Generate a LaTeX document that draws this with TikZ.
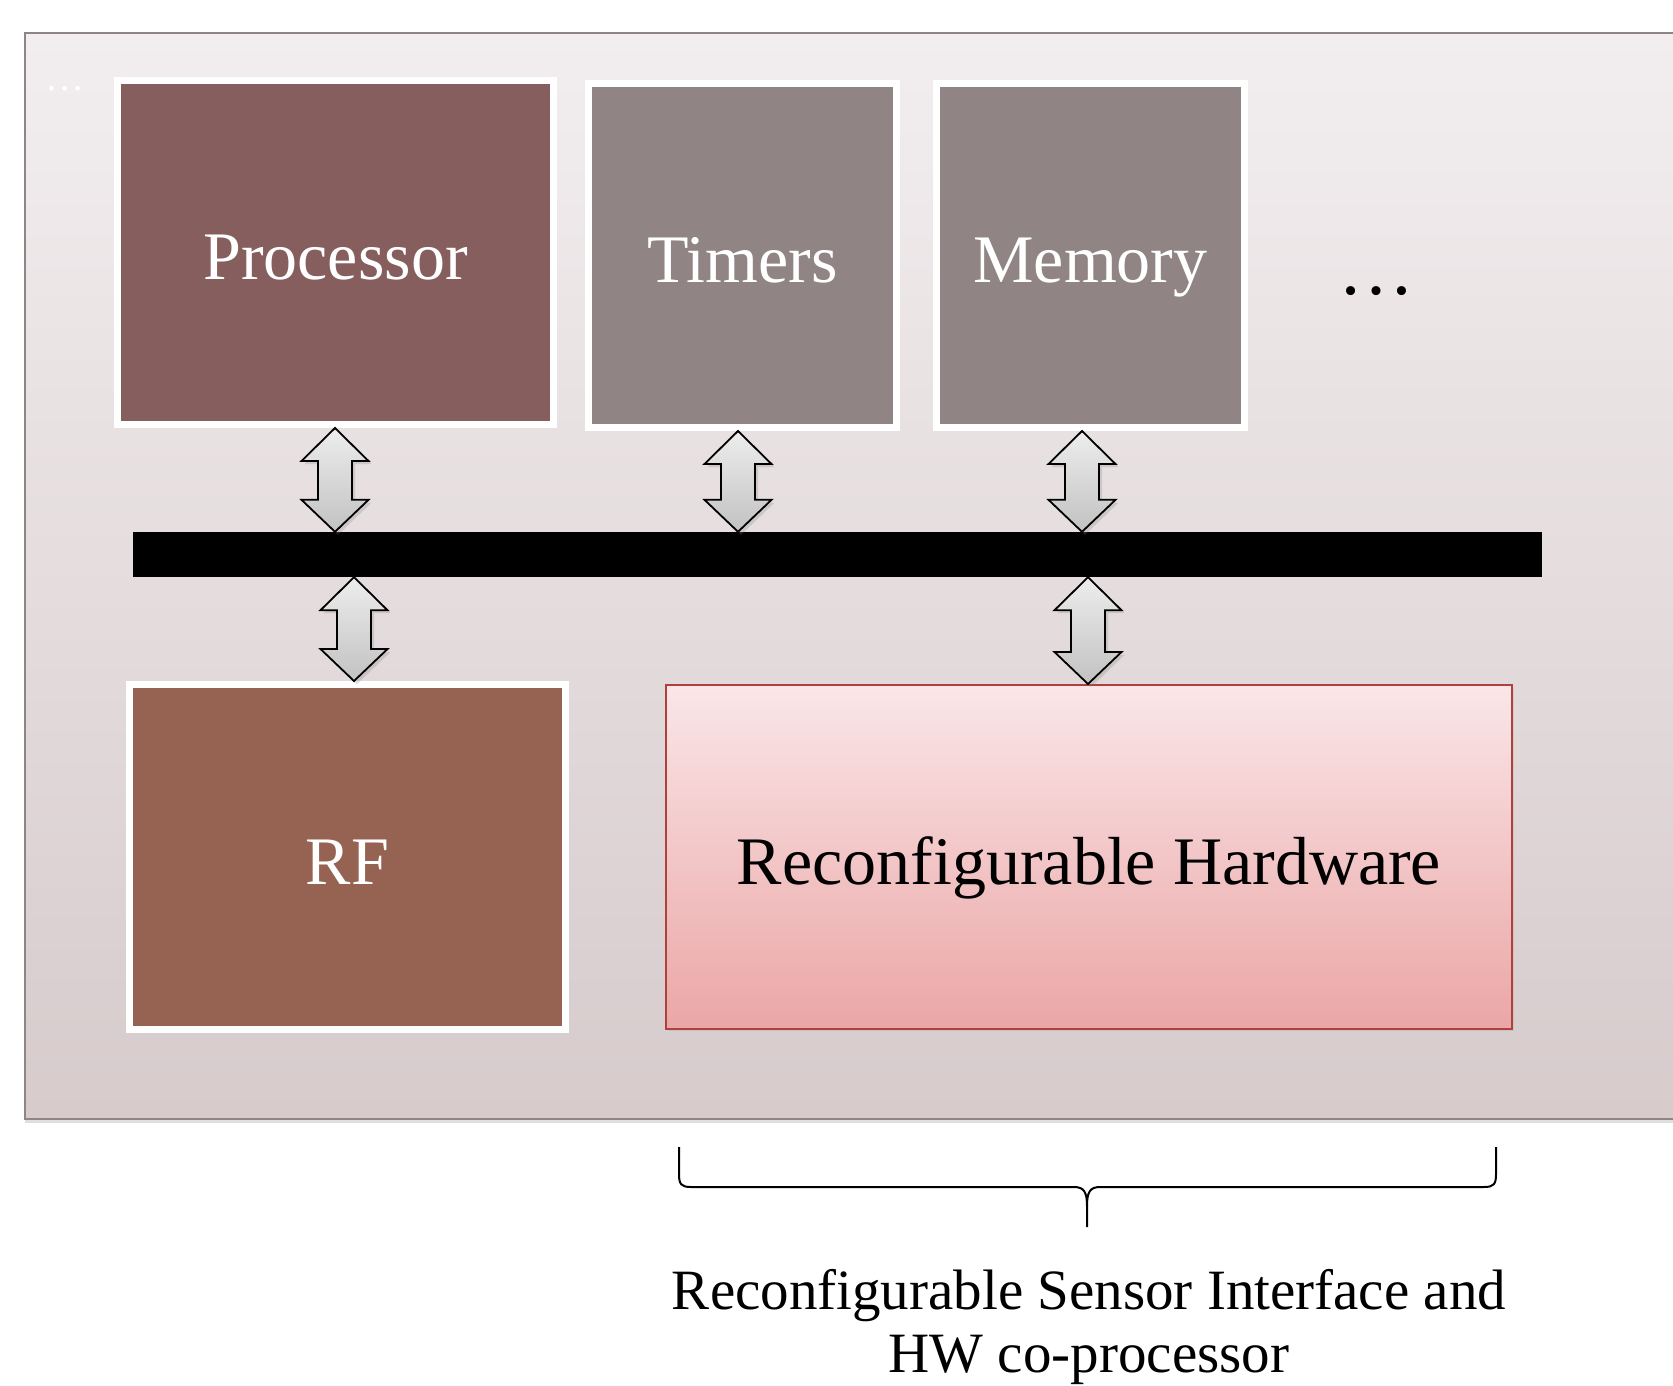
\documentclass[tikz,border=0pt]{standalone}
\usepackage{fontspec}
\setmainfont{Liberation Serif}
\usetikzlibrary{shadows,calc}

\definecolor{panelTop}{HTML}{F2EEEF}
\definecolor{panelBot}{HTML}{D7CBCC}
\definecolor{panelEdge}{HTML}{8F8587}
\definecolor{procC}{HTML}{865E5E}
\definecolor{periphC}{HTML}{918485}
\definecolor{rfC}{HTML}{966352}
\definecolor{rhTop}{HTML}{FAE6E8}
\definecolor{rhBot}{HTML}{EBA6A6}
\definecolor{rhEdge}{HTML}{B0403A}

\newcommand\blockfont{\fontsize{68}{80}\selectfont}
\newcommand\notefont{\fontsize{57}{63}\selectfont}

% double-headed fat arrow between two anchors, at the x of a guide coordinate
\newcommand\busarrow[3]{%
  \path[fatarrow] let \p1=(#1 |- #2), \p2=(#1 |- #3) in
    (\x1,\y1) -- (\x1+33.5pt,\y1-33pt) -- (\x1+17pt,\y1-33pt)
    -- (\x1+17pt,\y2+32pt) -- (\x1+33.5pt,\y2+32pt) -- (\x1,\y2)
    -- (\x1-33.5pt,\y2+32pt) -- (\x1-17pt,\y2+32pt)
    -- (\x1-17pt,\y1-33pt) -- (\x1-33.5pt,\y1-33pt) -- cycle;}

\begin{document}
\begin{tikzpicture}[x=1pt,y=-1pt,
  panel/.style={top color=panelTop, bottom color=panelBot, draw=panelEdge, line width=2pt,
    drop shadow={shadow xshift=0pt, shadow yshift=-4pt, opacity=0.25}},
  blocktext/.style={font=\blockfont, text height=62pt, text depth=8pt},
  block/.style={blocktext, draw=white, line width=7pt, inner sep=0pt, text=white,
    drop shadow={shadow xshift=3pt, shadow yshift=-3pt, opacity=0.2}},
  rhblock/.style={blocktext, top color=rhTop, bottom color=rhBot, draw=rhEdge, line width=2pt,
    inner sep=0pt,
    drop shadow={shadow xshift=2pt, shadow yshift=-2pt, opacity=0.15}},
  fatarrow/.style={top color=white!93!black, bottom color=white!76!black, draw=black,
    line width=1.8pt, line join=miter,
    drop shadow={shadow xshift=3pt, shadow yshift=-3pt, opacity=0.25}},
]
\useasboundingbox (0,0) rectangle (1673,1385);

% board background
\path[panel] (25,33) rectangle (1700,1119);
\node[text=white, font=\fontsize{39}{40}\selectfont, inner sep=0pt] (dotsa) at (65,89) {…};

% blocks on the bus
\node[block, fill=procC, minimum width=436pt, minimum height=344pt] (proc) at (335.5,252.5) {Processor};
\node[block, fill=periphC, minimum width=308pt, minimum height=344pt] (tim) at (742.5,255.5) {Timers};
\node[block, fill=periphC, minimum width=308pt, minimum height=344pt] (mem) at (1090.5,255.5) {Memory};
\node[font=\fontsize{76}{80}\selectfont, inner sep=0pt] (dotsb) at (1376,291) {…};

% system bus
\node[fill=black, minimum width=1409pt, minimum height=45pt, inner sep=0pt] (bus) at (837.5,554.5) {};

% blocks below the bus
\node[block, fill=rfC, minimum width=436pt, minimum height=345pt] (rf) at (347.5,857) {RF};
\node[rhblock, minimum width=846pt, minimum height=344pt] (rh) at (1089,857) {Reconfigurable Hardware};

% bus connections
\coordinate (xa) at (335,0);
\coordinate (xb) at (738,0);
\coordinate (xc) at (1082,0);
\coordinate (xd) at (354,0);
\coordinate (xe) at (1088,0);
\busarrow{xa}{proc.south}{bus.north}
\busarrow{xb}{tim.south}{bus.north}
\busarrow{xc}{mem.south}{bus.north}
\busarrow{xd}{bus.south}{rf.north}
\busarrow{xe}{bus.south}{rh.north}

% brace and caption
\draw[line width=2pt] (679,1147) -- (679,1174) .. controls (679,1184) and (681,1187) .. (691,1187)
  -- (1074,1187) .. controls (1084,1187) and (1087,1192) .. (1087,1206) -- (1087,1227)
  (1087,1206) .. controls (1087,1192) and (1090,1187) .. (1100,1187)
  -- (1484,1187) .. controls (1494,1187) and (1496,1184) .. (1496,1174) -- (1496,1147);
\node[font=\notefont, align=center, inner sep=0pt] (cap) at (1089,1327)
  {Reconfigurable Sensor Interface and\\HW co-processor};
\end{tikzpicture}
\end{document}
